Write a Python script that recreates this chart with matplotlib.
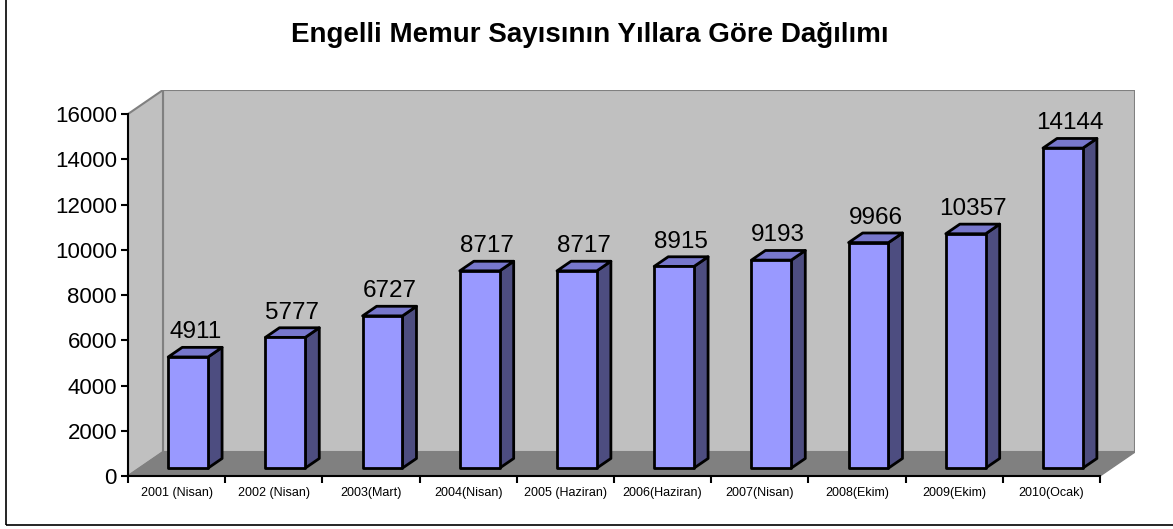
import matplotlib
matplotlib.use("Agg")
import matplotlib.pyplot as plt
from matplotlib.patches import Polygon, Rectangle

# data
categories = ["2001 (Nisan)", "2002 (Nisan)", "2003(Mart)", "2004(Nisan)", "2005 (Haziran)",
              "2006(Haziran)", "2007(Nisan)", "2008(Ekim)", "2009(Ekim)", "2010(Ocak)"]
values = [4911, 5777, 6727, 8717, 8717, 8915, 9193, 9966, 10357, 14144]
yticks = [0, 2000, 4000, 6000, 8000, 10000, 12000, 14000, 16000]

plt.rcParams['font.family'] = ['Liberation Sans', 'DejaVu Sans']

W, H = 1173, 529
fig = plt.figure(figsize=(W / 100, H / 100), dpi=100)

# outer frame (only left and bottom edges fall inside the picture)
fig.patches.append(Rectangle((6 / W, 4 / H), 1.2, 1.2, transform=fig.transFigure,
                             fill=False, edgecolor='black', linewidth=1.2))

ax = fig.add_axes([128 / W, (H - 476) / H, (1135 - 128) / W, (476 - 90) / H])

n = len(values)
ymax = 16000
DX = 0.36          # depth offset in category units
DY = 1061          # depth offset in value units
ax.set_xlim(0, n + DX)
ax.set_ylim(0, ymax + DY)

wall = '#c0c0c0'
floor = '#808080'
edge = '#808080'

# back wall, side wall, floor
ax.add_patch(Polygon([(DX, DY), (n + DX, DY), (n + DX, ymax + DY), (DX, ymax + DY)],
                     facecolor=wall, edgecolor=edge, linewidth=1.5, zorder=0))
ax.add_patch(Polygon([(0, 0), (DX, DY), (DX, ymax + DY), (0, ymax)],
                     facecolor=wall, edgecolor=edge, linewidth=1.5, zorder=0))
ax.add_patch(Polygon([(0, 0), (n, 0), (n + DX, DY), (DX, DY)],
                     facecolor=floor, edgecolor=edge, linewidth=1, zorder=0.5))

# bars with 3d faces
f0, f1 = 0.33, 0.73
bw = 0.41
front = '#9999ff'
top = '#7777cc'
side = '#4d4d80'
for i, v in enumerate(values):
    cx = i + 0.5 + f0 * DX
    x0, x1 = cx - bw / 2, cx + bw / 2
    b0 = f0 * DY
    ddx = (f1 - f0) * DX
    ddy = (f1 - f0) * DY
    ax.add_patch(Polygon([(x1, b0), (x1 + ddx, b0 + ddy), (x1 + ddx, b0 + v + ddy), (x1, b0 + v)],
                         facecolor=side, edgecolor='black', linewidth=2, joinstyle='round', zorder=2))
    ax.add_patch(Polygon([(x0, b0 + v), (x1, b0 + v), (x1 + ddx, b0 + v + ddy), (x0 + ddx, b0 + v + ddy)],
                         facecolor=top, edgecolor='black', linewidth=2, joinstyle='round', zorder=2))
    ax.add_patch(Polygon([(x0, b0), (x1, b0), (x1, b0 + v), (x0, b0 + v)],
                         facecolor=front, edgecolor='black', linewidth=2, joinstyle='round', zorder=3))
    ax.annotate(str(v), (cx + ddx / 2, b0 + v + ddy), xytext=(0, 3), textcoords='offset points',
                ha='center', va='bottom', fontsize=17.5)

# axes
for s in ['top', 'right']:
    ax.spines[s].set_visible(False)
ax.spines['left'].set_bounds(0, ymax)
ax.spines['bottom'].set_bounds(0, n)
ax.spines['left'].set_linewidth(1.5)
ax.spines['bottom'].set_linewidth(1.5)
ax.set_facecolor('none')
ax.set_yticks(yticks)
ax.set_yticklabels([str(t) for t in yticks], fontsize=16)
ax.set_xticks(range(n + 1))
ax.set_xticklabels([])
ax.set_xticks([i + 0.5 for i in range(n)], minor=True)
ax.set_xticklabels(categories, minor=True, fontsize=9)
ax.tick_params(axis='x', which='minor', length=0, pad=8)
ax.tick_params(axis='both', which='major', direction='out', length=5, width=1.5)
ax.tick_params(axis='y', pad=3)

fig.text(590 / W, (H - 35) / H, "Engelli Memur Sayısının Yıllara Göre Dağılımı",
         ha='center', va='center', fontsize=20, fontweight='bold')

fig.savefig("out.png", dpi=100)
